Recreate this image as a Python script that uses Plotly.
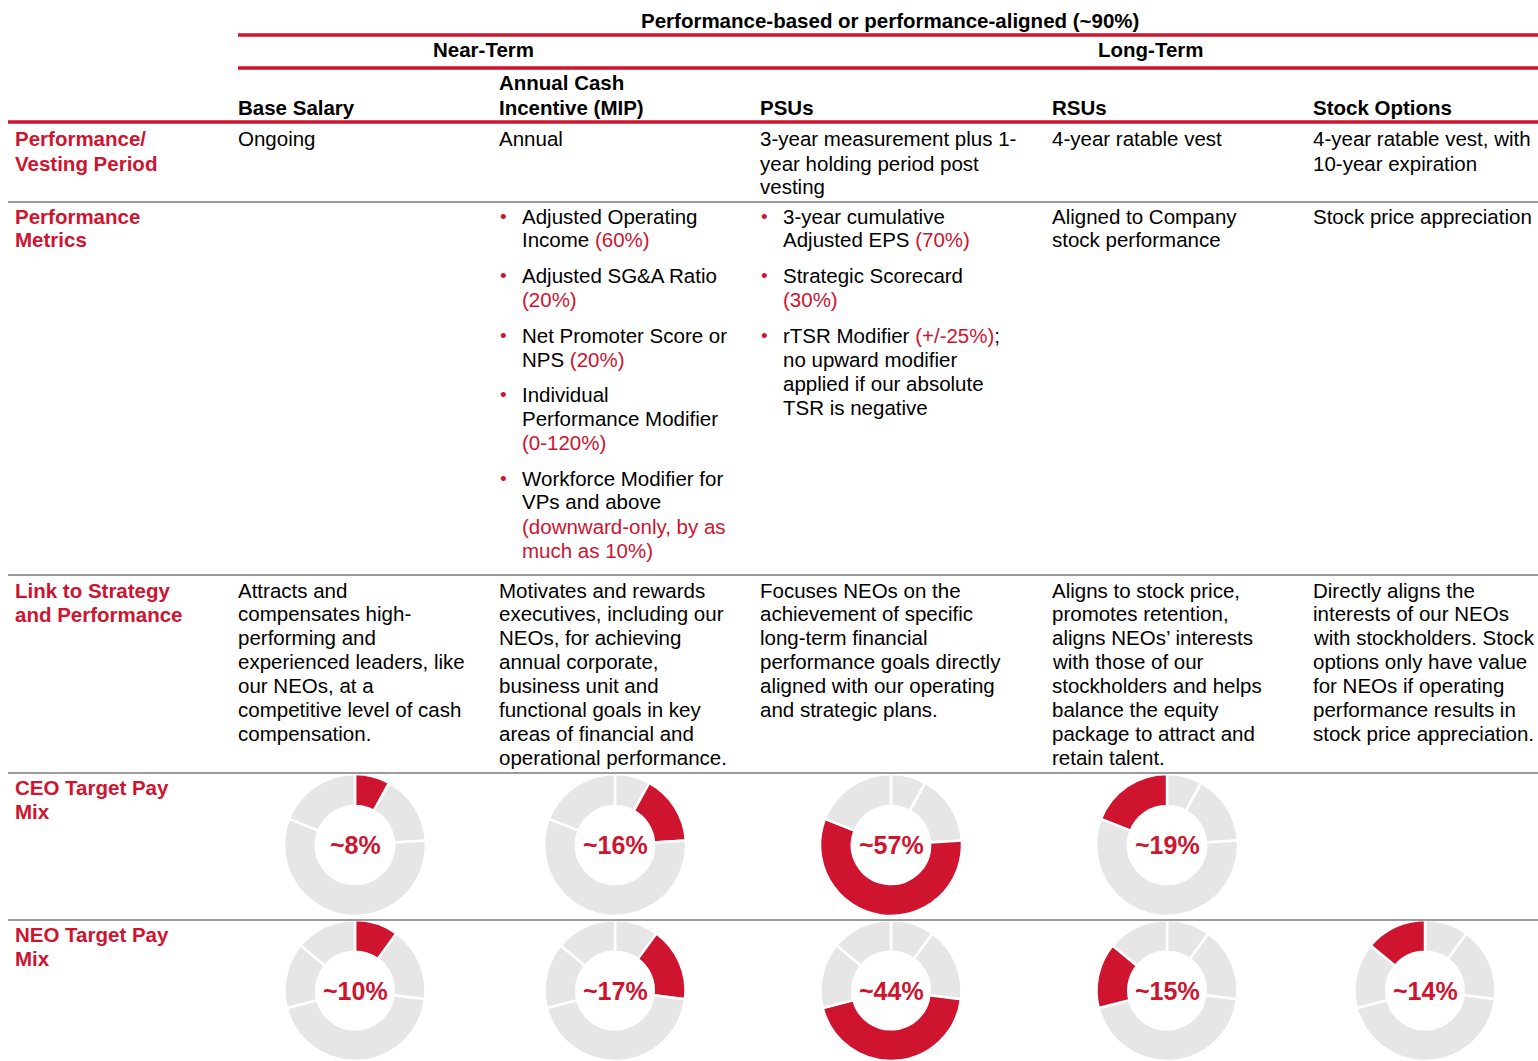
import plotly.graph_objects as go

W, H = 1538, 1061
RED = "#CF1430"
RULE_GREY = "#9B9B9B"
DONUT_GREY = "#E6E6E6"
FONT = "Liberation Sans, Arial, sans-serif"
FS = 20.5

# ---------------- data ----------------
top_title = "Performance-based or performance-aligned (~90%)"
group_titles = ["Near-Term", "Long-Term"]
column_headers = [["Base Salary"], ["Annual Cash", "Incentive (MIP)"], ["PSUs"], ["RSUs"], ["Stock Options"]]
row_labels = [
    ["Performance/", "Vesting Period"],
    ["Performance", "Metrics"],
    ["Link to Strategy", "and Performance"],
    ["CEO Target Pay", "Mix"],
    ["NEO Target Pay", "Mix"],
]
vesting_text = [
    ["Ongoing"],
    ["Annual"],
    ["3-year measurement plus 1-", "year holding period post", "vesting"],
    ["4-year ratable vest"],
    ["4-year ratable vest, with", "10-year expiration"],
]
R = "<span style='color:" + RED + "'>"
E = "</span>"
mip_metrics = [
    ["Adjusted Operating", "Income " + R + "(60%)" + E],
    ["Adjusted SG&A Ratio", R + "(20%)" + E],
    ["Net Promoter Score or", "NPS " + R + "(20%)" + E],
    ["Individual", "Performance Modifier", R + "(0-120%)" + E],
    ["Workforce Modifier for", "VPs and above", R + "(downward-only, by as" + E, R + "much as 10%)" + E],
]
psu_metrics = [
    ["3-year cumulative", "Adjusted EPS " + R + "(70%)" + E],
    ["Strategic Scorecard", R + "(30%)" + E],
    ["rTSR Modifier " + R + "(+/-25%)" + E + ";", "no upward modifier", "applied if our absolute", "TSR is negative"],
]
rsu_metrics = ["Aligned to Company", "stock performance"]
option_metrics = ["Stock price appreciation"]
strategy_text = [
    ["Attracts and", "compensates high-", "performing and", "experienced leaders, like",
     "our NEOs, at a", "competitive level of cash", "compensation."],
    ["Motivates and rewards", "executives, including our", "NEOs, for achieving", "annual corporate,",
     "business unit and", "functional goals in key", "areas of financial and", "operational performance."],
    ["Focuses NEOs on the", "achievement of specific", "long-term financial", "performance goals directly",
     "aligned with our operating", "and strategic plans."],
    ["Aligns to stock price,", "promotes retention,", "aligns NEOs\u2019 interests", "with those of our",
     "stockholders and helps", "balance the equity", "package to attract and", "retain talent."],
    ["Directly aligns the", "interests of our NEOs", "with stockholders. Stock", "options only have value",
     "for NEOs if operating", "performance results in", "stock price appreciation."],
]
ceo_mix = [8, 16, 57, 19]
neo_mix = [10, 17, 44, 15, 14]
ceo_labels = ["~8%", "~16%", "~57%", "~19%"]
neo_labels = ["~10%", "~17%", "~44%", "~15%", "~14%"]

# ---------------- layout helpers ----------------
col_x = [238, 499, 760, 1052, 1313]
donut_cx = [355, 615, 891, 1167, 1425]
LINE = 24.0
PAD = 2  # annotation inner padding


def fx(x):
    return x / W


def fy(y):
    return 1 - y / H


annotations = []
shapes = []


def text(s, x, y, size=FS, color="#000000", bold=False, anchor="left"):
    if bold:
        s = "<b>" + s + "</b>"
    if anchor == "left":
        x = x - PAD
    annotations.append(dict(
        text=s, x=fx(x), y=fy(y), xref="paper", yref="paper",
        xanchor=anchor, yanchor="middle", showarrow=False,
        font=dict(family=FONT, size=size, color=color),
    ))


def lines(ls, x, y0, step=LINE, **kw):
    for i, s in enumerate(ls):
        text(s, x, y0 + i * step, **kw)


def hline(y, x0, x1, color, width):
    shapes.append(dict(type="line", xref="paper", yref="paper",
                       x0=fx(x0), x1=fx(x1), y0=fy(y), y1=fy(y),
                       line=dict(color=color, width=width)))


# header
text(top_title, 890, 20, bold=True, anchor="center")
hline(35, 238, W, RED, 3.5)
text(group_titles[0], 483, 50, bold=True, anchor="center")
text(group_titles[1], 1151, 50, bold=True, anchor="center")
hline(68, 238, W, RED, 3.5)
for hx, hl in zip(col_x, column_headers):
    lines(hl, hx, 107 - (len(hl) - 1) * LINE, bold=True)
hline(122, 8, W, RED, 3.5)

# row separators
for gy in [202, 575, 773, 920]:
    hline(gy, 8, W, RULE_GREY, 2)

# row labels
for ry, lab in zip([139, 216, 590, 787, 934], row_labels):
    lines(lab, 15, ry, color=RED, bold=True)

# row 1
for cx, ls in zip(col_x, vesting_text):
    lines(ls, cx, 139)


# row 2: bullets
def bullets(items, bx, tx, y0):
    y = y0
    for it in items:
        text("\u2022", bx, y, size=19, color=RED, anchor="center")
        lines(it, tx, y)
        y += len(it) * LINE + 11.5


bullets(mip_metrics, 503, 522, 216)
bullets(psu_metrics, 764, 783, 216)
lines(rsu_metrics, col_x[3], 216)
lines(option_metrics, col_x[4], 216)

# row 3
for cx, ls in zip(col_x, strategy_text):
    lines(ls, cx, 590, step=23.9)

# ---------------- donuts ----------------
fig = go.Figure()
RAD = 71


def donut(values, highlight, cx, cy, label):
    colors = [RED if i == highlight else DONUT_GREY for i in range(len(values))]
    fig.add_trace(go.Pie(
        values=values, sort=False, direction="clockwise", rotation=0,
        hole=0.55, textinfo="none", hoverinfo="skip", showlegend=False,
        marker=dict(colors=colors, line=dict(color="#FFFFFF", width=2.5)),
        domain=dict(x=[fx(cx - RAD), fx(cx + RAD)], y=[max(0, fy(cy + RAD)), fy(cy - RAD)]),
    ))
    text(label, cx, cy, size=25, color=RED, bold=True, anchor="center")


for i, lab in enumerate(ceo_labels):
    donut(ceo_mix, i, donut_cx[i], 845, lab)
for i, lab in enumerate(neo_labels):
    donut(neo_mix, i, donut_cx[i], 991, lab)

fig.update_layout(
    width=W, height=H, margin=dict(l=0, r=0, t=0, b=0),
    paper_bgcolor="white", plot_bgcolor="white",
    annotations=annotations, shapes=shapes,
    font=dict(family=FONT),
)
fig.write_html("out.html", config={"displayModeBar": False},
               post_script="document.body.style.margin='0px';document.body.style.overflow='hidden';")
